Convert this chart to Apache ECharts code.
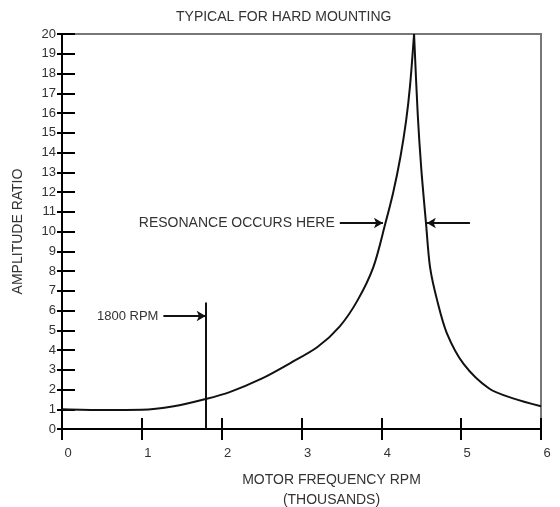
<!DOCTYPE html>
<html><head><meta charset="utf-8">
<script src="https://cdn.jsdelivr.net/npm/echarts@6/dist/echarts.min.js"></script>
<style>html,body{margin:0;padding:0;background:#fff}#c{width:560px;height:507px}</style>
</head><body><div id="c"></div>
<script>
// Data (x in thousands of RPM, y = amplitude ratio)
const titleText = 'TYPICAL FOR HARD MOUNTING';
const yAxisName = 'AMPLITUDE RATIO';
const xAxisName = 'MOTOR FREQUENCY RPM\n(THOUSANDS)';
const leftBranchX = [0, 0.5, 1.0, 1.4, 1.8, 2.1, 2.5, 2.86, 3.2, 3.48, 3.7, 3.9, 4.05, 4.15, 4.24, 4.31, 4.36, 4.41];
const leftBranchY = [1.0, 0.96, 0.97, 1.15, 1.52, 1.87, 2.55, 3.34, 4.15, 5.2, 6.5, 8.2, 10.4, 12.0, 13.8, 15.6, 17.4, 20];
const rightBranchX = [4.41, 4.455, 4.50, 4.56, 4.61, 4.70, 4.82, 5.03, 5.35, 5.65, 6.0];
const rightBranchY = [20, 16.0, 13.2, 10.4, 8.2, 6.5, 4.86, 3.3, 2.05, 1.55, 1.15];
const marker1800 = {x: 1.8, top: 6.4, arrowY: 5.72, arrowFrom: 1.27, label: '1800 RPM'};
const resonance = {y: 10.43, leftFrom: 3.48, leftTo: 4.02, rightFrom: 5.11, rightTo: 4.57, label: 'RESONANCE OCCURS HERE'};

const FONT = "'Liberation Sans', Arial, sans-serif";
const TXT = '#333';
const zip = (xs, ys) => xs.map((x, i) => [x, ys[i]]);

const chart = echarts.init(document.getElementById('c'), null, {renderer: 'canvas'});
const grid = {left: 62, right: 19, top: 34, bottom: 78, containLabel: false, outerBoundsMode: 'none',
  show: true, borderColor: '#777', borderWidth: 2, backgroundColor: 'transparent'};
const arrowLbl = {show: true, position: 'start', distance: 5, color: TXT, fontFamily: FONT, fontSize: 14};
chart.setOption({
  animation: false,
  backgroundColor: '#fff',
  textStyle: {fontFamily: FONT},
  title: {text: titleText, left: 171, top: 5, textStyle: {fontSize: 14, fontWeight: 'normal', color: TXT, fontFamily: FONT}},
  grid: grid,
  xAxis: [
    {type: 'value', min: 0, max: 6, interval: 1,
     axisLine: {show: true, onZero: false, lineStyle: {color: '#000', width: 2}},
     axisTick: {show: true, inside: true, length: 11, lineStyle: {color: '#000', width: 2}},
     axisLabel: {show: false}, splitLine: {show: false}},
    {type: 'value', min: 0, max: 6, interval: 1, position: 'bottom',
     axisLine: {show: false},
     axisTick: {show: true, inside: false, length: 11, lineStyle: {color: '#000', width: 2}},
     axisLabel: {show: true, margin: 18, color: TXT, fontSize: 13, fontFamily: FONT, padding: [0, 0, 0, 12]},
     splitLine: {show: false},
     name: xAxisName, nameLocation: 'middle', nameGap: 41,
     nameTextStyle: {color: TXT, fontSize: 14, fontFamily: FONT, lineHeight: 20, align: 'center', padding: [0, 0, 0, 60]}}
  ],
  yAxis: [
    {type: 'value', min: 0, max: 20, interval: 1,
     axisLine: {show: true, onZero: false, lineStyle: {color: '#000', width: 2}},
     axisTick: {show: true, inside: true, length: 13, lineStyle: {color: '#000', width: 2}},
     axisLabel: {show: false}, splitLine: {show: false}},
    {type: 'value', min: 0, max: 20, interval: 1, position: 'left',
     axisLine: {show: false},
     axisTick: {show: true, inside: false, length: 5, lineStyle: {color: '#000', width: 2}},
     axisLabel: {show: true, margin: 6, color: TXT, fontSize: 13, fontFamily: FONT},
     splitLine: {show: false},
     name: yAxisName, nameLocation: 'middle', nameGap: 37, nameRotate: 90,
     nameTextStyle: {color: TXT, fontSize: 14, fontFamily: FONT}}
  ],
  series: [
    {type: 'line', data: zip(leftBranchX, leftBranchY), smooth: 0.3, symbol: 'none',
     lineStyle: {color: '#111', width: 2},
     markLine: {silent: true, animation: false, symbol: ['none', 'none'],
       lineStyle: {color: '#111', width: 2, type: 'solid'},
       data: [
         [{coord: [marker1800.x, 0]}, {coord: [marker1800.x, marker1800.top]}],
       ], label: {show: false}}},
    {type: 'line', data: zip(rightBranchX, rightBranchY), smooth: 0.3, symbol: 'none',
     lineStyle: {color: '#111', width: 2},
     markLine: {silent: true, animation: false, symbol: ['none', 'arrow'], symbolSize: [8, 9],
       lineStyle: {color: '#111', width: 2, type: 'solid'},
       data: [
         [{coord: [marker1800.arrowFrom, marker1800.arrowY], label: Object.assign({formatter: marker1800.label}, arrowLbl, {fontSize: 13})}, {coord: [marker1800.x, marker1800.arrowY]}],
         [{coord: [resonance.leftFrom, resonance.y], label: Object.assign({formatter: resonance.label}, arrowLbl)}, {coord: [resonance.leftTo, resonance.y]}],
         [{coord: [resonance.rightFrom, resonance.y], label: {show: false}}, {coord: [resonance.rightTo, resonance.y]}]
       ]}}
  ]
});
</script></body></html>
